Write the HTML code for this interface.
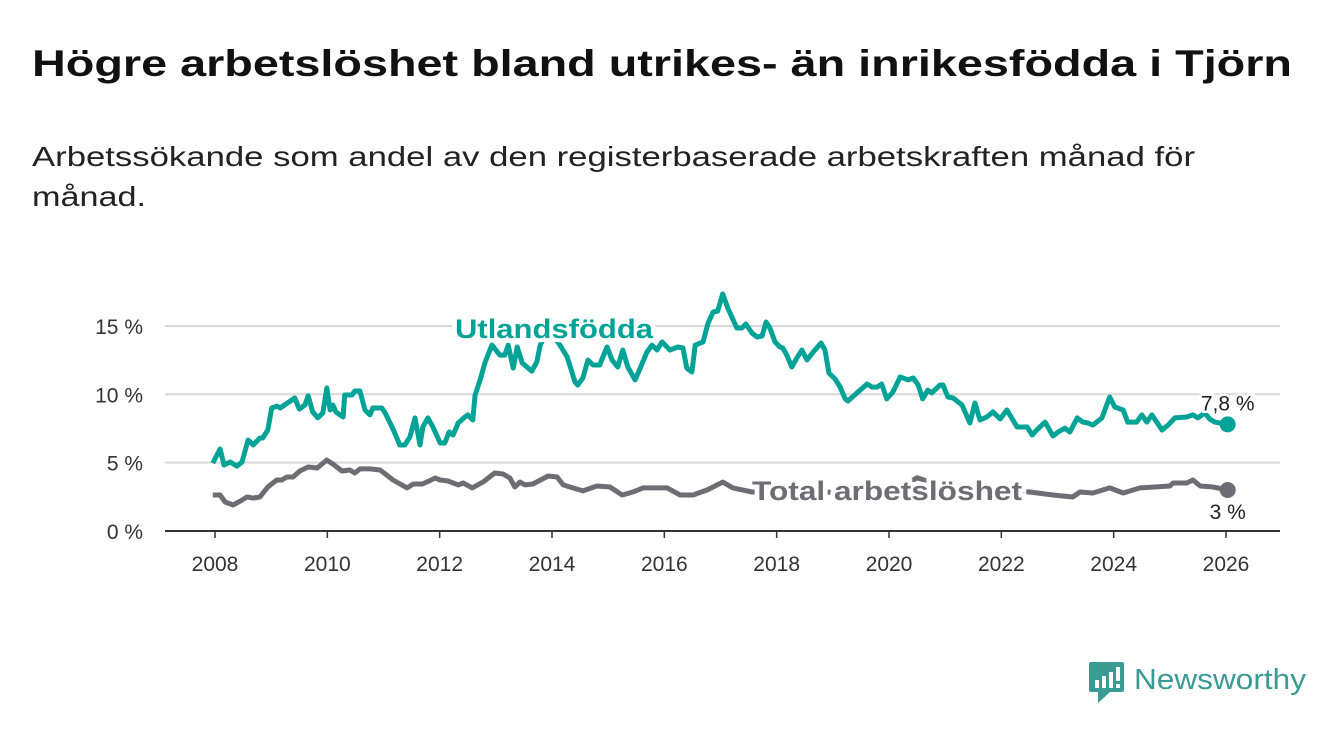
<!DOCTYPE html>
<html><head><meta charset="utf-8"><style>
html,body{margin:0;padding:0;background:#fff;}
svg{display:block;font-family:"Liberation Sans",sans-serif;}
</style></head><body>
<svg id="chart" width="1340" height="734" viewBox="0 0 1340 734" xmlns="http://www.w3.org/2000/svg">
<text x="32" y="76" font-size="37" font-weight="bold" fill="#111" textLength="1260" lengthAdjust="spacingAndGlyphs">Högre arbetslöshet bland utrikes- än inrikesfödda i Tjörn</text>
<text x="32" y="166" font-size="28" fill="#222" textLength="1163" lengthAdjust="spacingAndGlyphs">Arbetssökande som andel av den registerbaserade arbetskraften månad för</text>
<text x="32" y="206" font-size="28" fill="#222" textLength="114" lengthAdjust="spacingAndGlyphs">månad.</text>
<g id="grid"></g>
<g id="yaxis"></g>
<g id="xaxis"></g>
<g id="series"></g>
<g>
<rect x="1089" y="662" width="35" height="30" rx="2" fill="#3a9a94"/>
<polygon points="1098,692 1110,692 1098,703" fill="#3a9a94"/>
<rect x="1095" y="680" width="4" height="8" fill="#fff"/><rect x="1102" y="676" width="4" height="12" fill="#fff"/><rect x="1109" y="672" width="4" height="16" fill="#fff"/><rect x="1116" y="667" width="4" height="14" fill="#fff"/><rect x="1116" y="684" width="4" height="4" fill="#fff"/>
<text x="1134" y="689" font-size="29" fill="#3a9a94" textLength="172" lengthAdjust="spacingAndGlyphs">Newsworthy</text>
</g>
</svg>
<script>
const yTicks=[0,5,10,15];
const yTickLabels=["0 %","5 %","10 %","15 %"];
const xTicks=[2008,2010,2012,2014,2016,2018,2020,2022,2024,2026];
const utlDates=[2007.96,2008.09,2008.16,2008.27,2008.39,2008.48,2008.59,2008.68,2008.80,2008.85,2008.94,2009.01,2009.10,2009.16,2009.42,2009.50,2009.60,2009.66,2009.74,2009.83,2009.92,2009.99,2010.05,2010.10,2010.15,2010.28,2010.31,2010.44,2010.49,2010.58,2010.67,2010.76,2010.81,2010.97,2011.03,2011.17,2011.29,2011.38,2011.47,2011.56,2011.65,2011.70,2011.79,2011.88,2012.01,2012.09,2012.17,2012.24,2012.33,2012.45,2012.50,2012.59,2012.63,2012.72,2012.81,2012.93,2013.07,2013.16,2013.22,2013.31,2013.38,2013.47,2013.64,2013.73,2013.79,2013.88,2014.02,2014.14,2014.27,2014.41,2014.46,2014.55,2014.64,2014.73,2014.85,2014.98,2015.07,2015.17,2015.26,2015.35,2015.48,2015.57,2015.69,2015.78,2015.87,2015.96,2016.10,2016.24,2016.33,2016.40,2016.49,2016.55,2016.69,2016.78,2016.87,2016.95,2017.04,2017.13,2017.29,2017.38,2017.45,2017.56,2017.65,2017.74,2017.81,2017.88,2017.97,2018.06,2018.11,2018.18,2018.27,2018.36,2018.45,2018.54,2018.65,2018.79,2018.86,2018.93,2019.04,2019.13,2019.22,2019.27,2019.43,2019.61,2019.70,2019.79,2019.87,2019.96,2020.07,2020.20,2020.34,2020.43,2020.52,2020.60,2020.69,2020.76,2020.91,2020.96,2021.05,2021.14,2021.30,2021.44,2021.53,2021.62,2021.74,2021.85,2021.98,2022.10,2022.28,2022.46,2022.55,2022.63,2022.78,2022.92,2023.01,2023.13,2023.22,2023.35,2023.45,2023.54,2023.63,2023.79,2023.93,2024.02,2024.17,2024.25,2024.41,2024.50,2024.59,2024.68,2024.86,2024.97,2025.09,2025.30,2025.41,2025.50,2025.62,2025.71,2025.80,2026.03];
const utlValues=[4.97,6.0,4.83,5.05,4.75,5.05,6.66,6.29,6.8,6.8,7.39,9.0,9.14,9.0,9.73,8.92,9.22,9.88,8.71,8.27,8.63,10.46,8.85,9.22,8.71,8.34,9.95,9.95,10.24,10.24,8.85,8.49,9.0,9.0,8.63,7.46,6.29,6.29,6.88,8.27,6.29,7.61,8.27,7.61,6.44,6.44,7.24,7.02,7.9,8.34,8.49,8.12,9.95,11.05,12.36,13.6,12.87,12.87,13.6,11.92,13.46,12.29,11.7,12.36,13.6,14.3,14.3,13.6,12.73,10.9,10.68,11.19,12.51,12.14,12.14,13.46,12.51,12.0,13.24,12.0,11.05,11.92,13.09,13.6,13.24,13.83,13.24,13.46,13.39,11.92,11.63,13.6,13.83,15.22,16.02,16.09,17.34,16.31,14.85,14.85,15.14,14.48,14.19,14.26,15.29,14.85,13.83,13.46,13.39,12.87,12.0,12.66,13.24,12.51,13.09,13.75,13.24,11.56,11.12,10.53,9.66,9.51,10.1,10.75,10.53,10.53,10.75,9.66,10.17,11.27,11.05,11.19,10.68,9.66,10.31,10.1,10.68,10.68,9.8,9.73,9.22,7.9,9.36,8.12,8.34,8.71,8.19,8.85,7.61,7.61,7.02,7.39,7.97,6.95,7.24,7.53,7.24,8.27,7.97,7.9,7.75,8.27,9.8,9.07,8.85,7.97,7.97,8.49,7.97,8.49,7.39,7.75,8.27,8.34,8.49,8.27,8.63,8.19,7.97,7.8];
const totDates=[2007.96,2008.09,2008.18,2008.32,2008.45,2008.57,2008.68,2008.80,2008.94,2009.10,2009.19,2009.28,2009.39,2009.51,2009.66,2009.82,2009.99,2010.10,2010.26,2010.40,2010.49,2010.58,2010.76,2010.94,2011.17,2011.42,2011.53,2011.69,2011.77,2011.92,2012.01,2012.15,2012.33,2012.42,2012.58,2012.77,2012.98,2013.13,2013.25,2013.34,2013.43,2013.52,2013.66,2013.93,2014.09,2014.20,2014.37,2014.55,2014.80,2015.03,2015.25,2015.44,2015.62,2016.05,2016.28,2016.51,2016.76,2017.04,2017.22,2017.56,2018.41,2019.30,2020.20,2020.30,2020.50,2020.80,2021.20,2021.60,2022.00,2022.51,2022.92,2023.27,2023.40,2023.63,2023.93,2024.17,2024.47,2025.00,2025.06,2025.30,2025.41,2025.54,2025.77,2026.03];
const totValues=[2.63,2.63,2.12,1.9,2.19,2.49,2.41,2.49,3.22,3.73,3.73,3.95,3.95,4.39,4.68,4.61,5.19,4.9,4.39,4.46,4.24,4.54,4.54,4.46,3.73,3.15,3.44,3.44,3.58,3.88,3.73,3.66,3.37,3.51,3.15,3.58,4.24,4.17,3.88,3.22,3.58,3.37,3.44,4.02,3.95,3.37,3.15,2.93,3.29,3.22,2.63,2.85,3.15,3.15,2.63,2.63,3.0,3.58,3.15,2.85,2.9,2.8,3.0,3.4,3.9,3.5,3.3,3.0,2.9,2.85,2.63,2.49,2.85,2.78,3.15,2.78,3.15,3.29,3.51,3.51,3.73,3.29,3.22,3.0];
const utlLastLabel="7,8 %", totLastLabel="3 %";
const NS="http://www.w3.org/2000/svg";
const X0=165,X1=1280,Y0=531;
function xs(d){return 215+(d-2008)*(1226-215)/18;}
function ys(v){return Y0-v*13.67;}
function mk(tag,attrs,parent,txt){const e=document.createElementNS(NS,tag);for(const k in attrs)e.setAttribute(k,attrs[k]);if(txt!=null)e.textContent=txt;parent.appendChild(e);return e;}
const grid=document.getElementById('grid'),ya=document.getElementById('yaxis'),xa=document.getElementById('xaxis'),ser=document.getElementById('series');
yTicks.forEach((t,i)=>{
  if(t>0){const l=mk('line',{x1:X0,x2:X1,y1:ys(t),y2:ys(t),stroke:'#d9d9d9','stroke-width':2},grid);
  
  }
  const tx=mk('text',{x:143,y:ys(t)+8,'font-size':21,fill:'#333','text-anchor':'end'},ya,yTickLabels[i]);
  
  
});
const ax=mk('line',{x1:X0,x2:X1,y1:Y0,y2:Y0,stroke:'#333','stroke-width':2},xa);


xTicks.forEach(t=>{
  const tk=mk('line',{x1:xs(t),x2:xs(t),y1:Y0,y2:Y0+7,stroke:'#333','stroke-width':1.5},xa);
  
  
  const tx=mk('text',{x:xs(t),y:571,'font-size':21,fill:'#333','text-anchor':'middle'},xa,String(t));
  
  
});
function pts(D,V){return D.map((d,i)=>xs(d).toFixed(1)+','+ys(V[i]).toFixed(1)).join(' ');}
const tl=mk('polyline',{points:pts(totDates,totValues),fill:'none',stroke:'#6e6d73','stroke-width':5,'stroke-linejoin':'round'},ser);


const ul=mk('polyline',{points:pts(utlDates,utlValues),fill:'none',stroke:'#00a396','stroke-width':5,'stroke-linejoin':'round'},ser);


const lu=mk('text',{x:455,y:338,'font-size':27,'font-weight':'bold',fill:'#00a396',stroke:'#fff','stroke-width':8,'paint-order':'stroke','textLength':198,'lengthAdjust':'spacingAndGlyphs'},ser,'Utlandsfödda');


const lt=mk('text',{x:752,y:500,'font-size':27,'font-weight':'bold',fill:'#6e6d73',stroke:'#fff','stroke-width':8,'paint-order':'stroke','textLength':270,'lengthAdjust':'spacingAndGlyphs'},ser,'Total arbetslöshet');


const nU=utlDates.length-1,nT=totDates.length-1;
const du=mk('circle',{cx:xs(utlDates[nU]),cy:ys(utlValues[nU]),r:8,fill:'#00a396'},ser);


const dt=mk('circle',{cx:xs(totDates[nT]),cy:ys(totValues[nT]),r:8,fill:'#6e6d73'},ser);


const vu=mk('text',{x:xs(utlDates[nU]),y:ys(utlValues[nU])-14,'font-size':21,fill:'#222','text-anchor':'middle',stroke:'#fff','stroke-width':5,'paint-order':'stroke'},ser,utlLastLabel);


const vt=mk('text',{x:xs(totDates[nT]),y:ys(totValues[nT])+29,'font-size':21,fill:'#222','text-anchor':'middle',stroke:'#fff','stroke-width':5,'paint-order':'stroke'},ser,totLastLabel);


</script>
</body></html>
